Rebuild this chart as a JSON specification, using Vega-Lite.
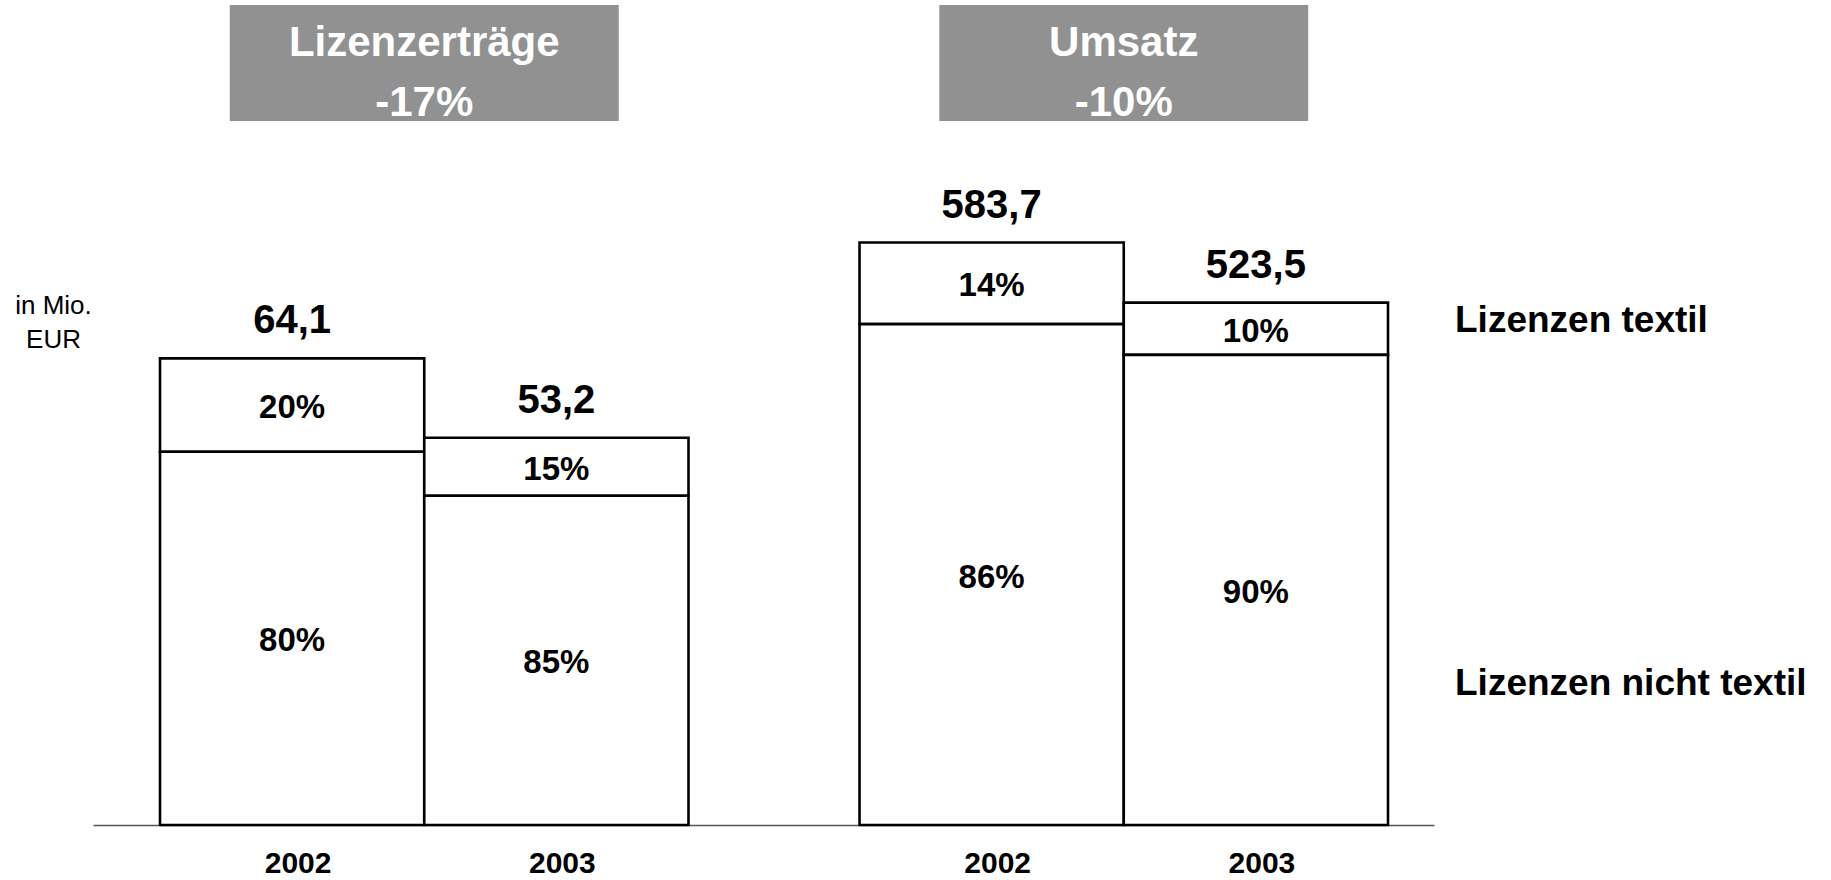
{
  "$schema": "https://vega.github.io/schema/vega-lite/v6.json",
  "width": 1341,
  "height": 825,
  "autosize": {"type": "none"},
  "padding": {"left": 93, "top": 0, "right": 397, "bottom": 55},
  "background": "white",
  "config": {
    "font": "Liberation Sans",
    "view": {"stroke": null},
    "axisX": {"labels": false, "ticks": false, "grid": false, "domainColor": "#555555", "domainWidth": 1.4},
    "axisY": {"labels": false, "ticks": false, "grid": false, "domain": false}
  },
  "datasets": {
    "segments": [
      {"group": "Lizenzerträge", "year": "2002", "segment": "Lizenzen textil", "share": 20, "total": 64.1},
      {"group": "Lizenzerträge", "year": "2002", "segment": "Lizenzen nicht textil", "share": 80, "total": 64.1},
      {"group": "Lizenzerträge", "year": "2003", "segment": "Lizenzen textil", "share": 15, "total": 53.2},
      {"group": "Lizenzerträge", "year": "2003", "segment": "Lizenzen nicht textil", "share": 85, "total": 53.2},
      {"group": "Umsatz", "year": "2002", "segment": "Lizenzen textil", "share": 14, "total": 583.7},
      {"group": "Umsatz", "year": "2002", "segment": "Lizenzen nicht textil", "share": 86, "total": 583.7},
      {"group": "Umsatz", "year": "2003", "segment": "Lizenzen textil", "share": 10, "total": 523.5},
      {"group": "Umsatz", "year": "2003", "segment": "Lizenzen nicht textil", "share": 90, "total": 523.5}
    ],
    "headers": [
      {"group": "Lizenzerträge", "change": "-17%"},
      {"group": "Umsatz", "change": "-10%"}
    ]
  },
  "resolve": {"scale": {"y": "independent"}, "axis": {"y": "independent"}},
  "layer": [
    {
      "data": {"name": "segments"},
      "transform": [
        {"filter": "datum.group === 'Lizenzerträge'"},
        {"calculate": "datum.total * datum.share / 100", "as": "value"},
        {"stack": "value", "groupby": ["group", "year"], "sort": [{"field": "segment", "order": "ascending"}], "as": ["v0", "v1"]},
        {"calculate": "(datum.v0 + datum.v1) / 2", "as": "mid"},
        {"calculate": "datum.share + '%'", "as": "pct"},
        {"calculate": "replace(format(datum.total, '.1f'), '.', ',')", "as": "totalLabel"}
      ],
      "layer": [
        {
          "mark": {"type": "bar", "stroke": "black", "strokeWidth": 2.6},
          "encoding": {
            "x": {"field": "group", "type": "nominal", "title": null, "scale": {"domain": ["Lizenzerträge", "Umsatz"], "paddingInner": 0.2445, "paddingOuter": 0.08077, "align": 0.593}},
            "xOffset": {"field": "year", "type": "nominal", "scale": {"domain": ["2002", "2003"], "paddingInner": 0, "paddingOuter": 0}},
            "y": {"field": "v1", "type": "quantitative", "scale": {"domain": [0, 113.33], "nice": false, "zero": true},
                  "axis": {"title": ["in Mio.", "EUR"], "titleAngle": 0, "titleAlign": "center", "titleBaseline": "middle", "titleX": -40, "titleY": 305, "titleFontSize": 26, "titleFontWeight": "normal", "titleColor": "black", "titleLineHeight": 34}},
            "y2": {"field": "v0"},
            "fill": {"field": "segment", "type": "nominal", "scale": {"domain": ["Lizenzen textil", "Lizenzen nicht textil"], "range": ["white", "white"]},
                     "legend": {"orient": "none", "legendX": 1325, "legendY": 302, "title": null, "labelFontSize": 37, "labelFontWeight": "bold", "labelColor": "black", "symbolSize": 0, "symbolOpacity": 0, "symbolStrokeWidth": 0, "labelOffset": 0, "rowPadding": 325, "padding": 0, "labelLimit": 600}}
          }
        },
        {
          "mark": {"type": "text", "fontSize": 33, "fontWeight": "bold", "color": "black", "baseline": "middle", "dy": 3},
          "encoding": {
            "x": {"field": "group", "type": "nominal", "title": null},
            "xOffset": {"field": "year", "type": "nominal"},
            "y": {"field": "mid", "type": "quantitative"},
            "text": {"field": "pct"}
          }
        },
        {
          "transform": [{"filter": "datum.segment === 'Lizenzen textil'"}],
          "layer": [
            {
              "mark": {"type": "text", "fontSize": 40, "fontWeight": "bold", "color": "black", "baseline": "alphabetic", "dy": -25},
              "encoding": {
                "x": {"field": "group", "type": "nominal", "title": null},
                "xOffset": {"field": "year", "type": "nominal"},
                "y": {"field": "total", "type": "quantitative"},
                "text": {"field": "totalLabel"}
              }
            },
            {
              "mark": {"type": "text", "fontSize": 30, "fontWeight": "bold", "color": "black", "baseline": "alphabetic", "dy": 48, "dx": 6},
              "encoding": {
                "x": {"field": "group", "type": "nominal", "title": null},
                "xOffset": {"field": "year", "type": "nominal"},
                "y": {"datum": 0, "type": "quantitative"},
                "text": {"field": "year"}
              }
            }
          ]
        },
        {
          "data": {"name": "headers"},
          "transform": [{"filter": "datum.group === 'Lizenzerträge'"}],
          "mark": {"type": "bar", "color": "#919191", "width": {"band": 0.736}},
          "encoding": {
            "x": {"field": "group", "type": "nominal", "title": null},
            "y": {"datum": 112.64, "type": "quantitative"},
            "y2": {"datum": 96.71}
          }
        },
        {
          "data": {"name": "headers"},
          "transform": [{"filter": "datum.group === 'Umsatz'"}],
          "mark": {"type": "bar", "color": "#919191", "width": {"band": 0.698}},
          "encoding": {
            "x": {"field": "group", "type": "nominal", "title": null},
            "y": {"datum": 112.64, "type": "quantitative"},
            "y2": {"datum": 96.71}
          }
        },
        {
          "data": {"name": "headers"},
          "transform": [{"calculate": "datum.group + '|' + datum.change", "as": "headerLabel"}],
          "mark": {"type": "text", "fontSize": 42, "fontWeight": "bold", "color": "white", "baseline": "middle", "lineBreak": "|", "lineHeight": 60},
          "encoding": {
            "x": {"field": "group", "type": "nominal", "title": null},
            "y": {"datum": 107.42, "type": "quantitative"},
            "text": {"field": "headerLabel"}
          }
        }
      ]
    },
    {
      "data": {"name": "segments"},
      "transform": [
        {"filter": "datum.group === 'Umsatz'"},
        {"calculate": "datum.total * datum.share / 100", "as": "value"},
        {"stack": "value", "groupby": ["group", "year"], "sort": [{"field": "segment", "order": "ascending"}], "as": ["v0", "v1"]},
        {"calculate": "(datum.v0 + datum.v1) / 2", "as": "mid"},
        {"calculate": "datum.share + '%'", "as": "pct"},
        {"calculate": "replace(format(datum.total, '.1f'), '.', ',')", "as": "totalLabel"}
      ],
      "layer": [
        {
          "mark": {"type": "bar", "stroke": "black", "strokeWidth": 2.6},
          "encoding": {
            "x": {"field": "group", "type": "nominal", "title": null},
            "xOffset": {"field": "year", "type": "nominal"},
            "y": {"field": "v1", "type": "quantitative", "scale": {"domain": [0, 826.8], "nice": false, "zero": true}, "axis": null},
            "y2": {"field": "v0"},
            "fill": {"field": "segment", "type": "nominal"}
          }
        },
        {
          "mark": {"type": "text", "fontSize": 33, "fontWeight": "bold", "color": "black", "baseline": "middle", "dy": 3},
          "encoding": {
            "x": {"field": "group", "type": "nominal", "title": null},
            "xOffset": {"field": "year", "type": "nominal"},
            "y": {"field": "mid", "type": "quantitative"},
            "text": {"field": "pct"}
          }
        },
        {
          "transform": [{"filter": "datum.segment === 'Lizenzen textil'"}],
          "layer": [
            {
              "mark": {"type": "text", "fontSize": 40, "fontWeight": "bold", "color": "black", "baseline": "alphabetic", "dy": -25},
              "encoding": {
                "x": {"field": "group", "type": "nominal", "title": null},
                "xOffset": {"field": "year", "type": "nominal"},
                "y": {"field": "total", "type": "quantitative"},
                "text": {"field": "totalLabel"}
              }
            },
            {
              "mark": {"type": "text", "fontSize": 30, "fontWeight": "bold", "color": "black", "baseline": "alphabetic", "dy": 48, "dx": 6},
              "encoding": {
                "x": {"field": "group", "type": "nominal", "title": null},
                "xOffset": {"field": "year", "type": "nominal"},
                "y": {"datum": 0, "type": "quantitative"},
                "text": {"field": "year"}
              }
            }
          ]
        }
      ]
    }
  ]
}
